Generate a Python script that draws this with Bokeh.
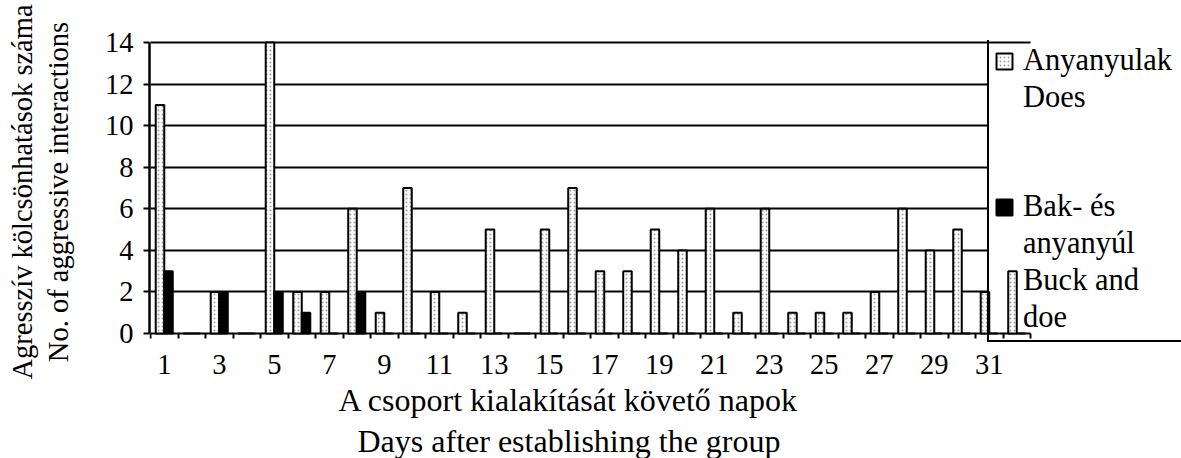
from bokeh.plotting import figure
from bokeh.models import (FixedTicker, Legend, LegendItem, Range1d, ColumnDataSource, Title, Grid)
from bokeh.transform import dodge
from bokeh.embed import file_html
from bokeh.resources import INLINE

# ---- data ----
days = list(range(1, 33))
does = [11, 0, 2, 0, 14, 2, 2, 6, 1, 7, 2, 1, 5, 0, 5, 7,
        3, 3, 5, 4, 6, 1, 6, 1, 1, 1, 2, 6, 4, 5, 2, 3]
buck = [3, 0, 2, 0, 2, 1, 0, 2, 0, 0, 0, 0, 0, 0, 0, 0,
        0, 0, 0, 0, 0, 0, 0, 0, 0, 0, 0, 0, 0, 0, 0, 0]
y_ticks = [0, 2, 4, 6, 8, 10, 12, 14]
x_tick_labels = [1, 3, 5, 7, 9, 11, 13, 15, 17, 19, 21, 23, 25, 27, 29, 31]
does_lines = ["Anyanyulak", "Does"]
buck_lines = ["Bak- és", "anyanyúl", "Buck and", "doe"]
x_title_hu = "A csoport kialakítását követő napok"
x_title_en = "Days after establishing the group"
y_title = "Agresszív kölcsönhatások száma\nNo. of aggressive interactions"

FONT = "Liberation Serif"
W, H = 1181, 458
LEFT, TOP, BOTTOM = 149, 40, 115
PX_PER_DAY = 27.5
x_start = 0.5 - 1 / PX_PER_DAY
x_end = x_start + (W - LEFT) / PX_PER_DAY
n_days = len(days)
LEGEND_X = 838                    # px from the frame's left edge
legend_edge = x_start + LEGEND_X / PX_PER_DAY

src = ColumnDataSource(dict(day=days, does=does, buck=buck))

p = figure(width=W, height=H,
           x_range=Range1d(x_start, x_end), y_range=Range1d(-0.48, 14.1),
           output_backend="svg", toolbar_location=None,
           min_border_left=LEFT, min_border_right=0,
           min_border_top=TOP, min_border_bottom=BOTTOM)
p.outline_line_color = None
p.background_fill_color = "white"
p.border_fill_color = "white"

r1 = p.vbar(x=dodge("day", -0.155), top="does", bottom=0, width=0.31, source=src,
            fill_color="white", line_color="black", line_width=2,
            hatch_pattern="dot", hatch_scale=4, hatch_color="#a0a0a0", hatch_weight=1,
            level="overlay")
r2 = p.vbar(x=dodge("day", 0.155), top="buck", bottom=0, width=0.31, source=src,
            fill_color="black", line_color="black", line_width=2,
            level="overlay")

# x axis: only labels (zero line = y grid at 0, tick marks = x grid)
xa = p.xaxis[0]
xa.ticker = FixedTicker(ticks=x_tick_labels, minor_ticks=[])
xa.bounds = (0.5, n_days + 0.5)
xa.axis_line_color = None
xa.major_tick_line_color = None
xa.major_tick_out = 0
xa.major_tick_in = 0
xa.minor_tick_line_color = None
xa.major_label_text_font = FONT
xa.major_label_text_font_size = "28.5px"
xa.major_label_text_color = "black"
xa.major_label_standoff = 11

# x titles (two lines, as in the reference)
t1 = Title(text=x_title_hu, align="left", offset=189, standoff=6,
           text_font=FONT, text_font_size="32px", text_font_style="normal",
           text_color="black", text_line_height=0.9)
t2 = Title(text=x_title_en, align="left", offset=208, standoff=0,
           text_font=FONT, text_font_size="32px", text_font_style="normal",
           text_color="black", text_line_height=0.9)
p.add_layout(t1, "below")
p.add_layout(t2, "below")

# y axis
ya = p.yaxis[0]
ya.ticker = FixedTicker(ticks=y_ticks, minor_ticks=[])
ya.bounds = (0, 14)
ya.major_tick_out = 6
ya.major_tick_in = 0
ya.major_tick_line_width = 2
ya.axis_line_width = 2.5
ya.axis_line_color = "black"
ya.major_label_text_font = FONT
ya.major_label_text_font_size = "28.5px"
ya.major_label_text_color = "black"
ya.major_label_standoff = 10
ya.axis_label = y_title
ya.axis_label_text_font = FONT
ya.axis_label_text_font_size = "28.5px"
ya.axis_label_text_font_style = "normal"
ya.axis_label_text_color = "black"
ya.axis_label_text_line_height = 1.15
ya.axis_label_standoff = 28
ya.level = "overlay"

# zero line and top line run to the last category
p.ygrid.ticker = FixedTicker(ticks=[y_ticks[0], y_ticks[-1]])
p.ygrid.cross_bounds = (0.5, n_days + 0.5)
p.ygrid.grid_line_color = "black"
p.ygrid.grid_line_width = 2
# inner grid lines stop at the legend's left edge
inner_grid = Grid(dimension=1, axis=ya, ticker=FixedTicker(ticks=y_ticks[1:-1]),
                  cross_bounds=(0.5, legend_edge),
                  grid_line_color="black", grid_line_width=2)
p.add_layout(inner_grid)

# small tick marks between categories, below the zero line
p.xgrid.ticker = FixedTicker(ticks=[d - 0.5 for d in days] + [n_days + 0.5])
p.xgrid.cross_bounds = (-0.25, 0)
p.xgrid.grid_line_color = "black"
p.xgrid.grid_line_width = 2

items = [LegendItem(label=does_lines[0], renderers=[r1])]
items += [LegendItem(label=t, renderers=[]) for t in does_lines[1:]]
items += [LegendItem(label=" ", renderers=[]), LegendItem(label="  ", renderers=[])]
items += [LegendItem(label=buck_lines[0], renderers=[r2])]
items += [LegendItem(label=t, renderers=[]) for t in buck_lines[1:]]

legend = Legend(items=items, location=(LEGEND_X, 1))
legend.label_text_font = FONT
legend.label_text_font_size = "30.5px"
legend.label_text_color = "black"
legend.label_height = 34
legend.label_width = 175
legend.glyph_width = 20
legend.glyph_height = 20
legend.label_standoff = 9
legend.padding = 5
legend.spacing = 2
legend.margin = 0
legend.border_line_color = "black"
legend.border_line_alpha = 1.0
legend.border_line_width = 2
legend.background_fill_alpha = 0.0
p.add_layout(legend)

open("out.html", "w").write(file_html(p, INLINE))
